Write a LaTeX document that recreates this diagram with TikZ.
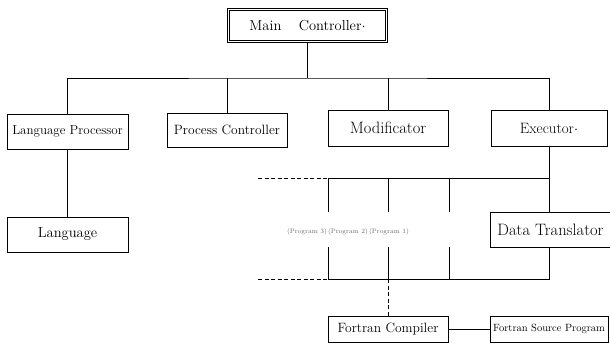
\documentclass[tikz,border=0pt]{standalone}
\usetikzlibrary{positioning}

\begin{document}
\begin{tikzpicture}[
  x=1pt,y=-1pt,
  box/.style={draw,line width=0.9pt,inner sep=0pt,minimum width=120pt,minimum height=35pt,align=center},
  link/.style={line width=0.8pt},
  bus/.style={line width=0.8pt,dash pattern=on 4pt off 2.5pt},
  sz/.style={font=\fontsize{#1}{#1}\selectfont},
]
\clip (0,0) rectangle (610,351);

\node[box,double,double distance=1.4pt,minimum width=158pt,minimum height=32pt,sz=14.5] (main) at (307.5,25.5) {Main\hspace{1.2em}Controller$\cdot$};

\node[box,minimum width=121pt,sz=13] (langproc) at (67.5,131.5) {Language Processor};
\node[box,minimum height=34pt,sz=13.5] (procctrl) at (227,130) {Process Controller};
\node[box,minimum height=36pt,sz=16.5] (modif) at (388,128) {Modificator};
\node[box,minimum width=116pt,minimum height=36pt,sz=15] (exec) at (549,128) {Executor$\cdot$};
\node[box,minimum width=121pt,sz=14.5] (lang) at (67.5,234.5) {Language};
\node[box,anchor=west,minimum width=0pt,inner xsep=7pt,sz=16.5] (dtrans) at (490,229.5) {Data Translator};
\node[box,minimum height=26pt,sz=13.5] (fcomp) at (388,329) {Fortran Compiler};
\node[box,minimum width=118pt,minimum height=26pt,sz=10.5] (fsrc) at (549,329) {Fortran Source Program};

\node[sz=6.5,text=black!60] (prog3) at (307,232) {(Program 3)};
\node[sz=6.5,text=black!60] (prog2) at (348,232) {(Program 2)};
\node[sz=6.5,text=black!60] (prog1) at (389,232) {(Program 1)};

\coordinate (top) at (307.5,78);
\coordinate (upperL) at (258,178);
\coordinate (upper) at (328,178);
\coordinate (lowerL) at (258,279);
\coordinate (lower) at (328,279);

\draw[link] (main) -- (top);
\draw[link] (langproc.north) |- (top) -| (exec.north);
\draw[link] (procctrl.north) -- (procctrl.north |- top);
\draw[link] (modif.north) -- (modif.north |- top);
\draw[link] (langproc) -- (lang);
\draw[link] (exec.south) -- (exec.south |- dtrans.north);
\draw[bus] (upperL) -- (upper);
\draw[link] (upper) -- (exec.south |- upper);
\draw[bus] (lowerL) -- (lower);
\draw[link] (lower) -- (exec.south |- lower) -- (exec.south |- dtrans.south);
\foreach \x in {328,388,449} {
  \draw[link] (\x,178) -- (\x,212);
  \draw[link] (\x,247) -- (\x,279);
}
\draw[bus] (fcomp.north |- lower) -- (fcomp.north);
\draw[link] (fcomp) -- (fsrc);

\end{tikzpicture}
\end{document}
